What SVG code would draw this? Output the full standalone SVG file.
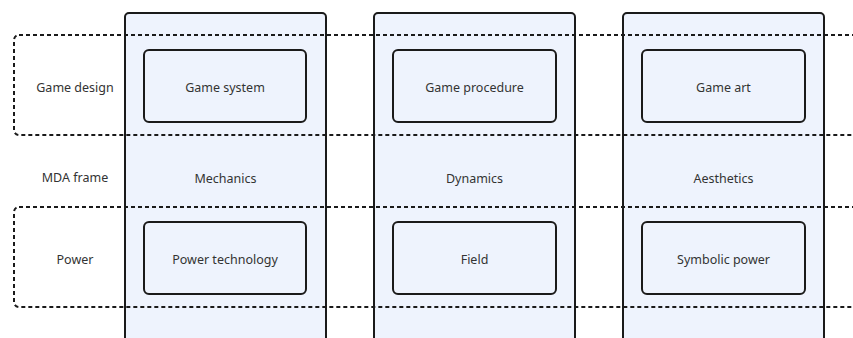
<svg xmlns="http://www.w3.org/2000/svg" width="853" height="338" viewBox="0 0 853 338">
  <style>
    .col { fill: #eef3fd; stroke: #1a1a1a; stroke-width: 2; }
    .box { fill: #eef3fd; stroke: #1a1a1a; stroke-width: 2; }
    .band { fill: none; stroke: #1a1a1a; stroke-width: 2; stroke-dasharray: 4 3; }
    text { font-family: "Noto Sans", "Open Sans", sans-serif; font-size: 12.5px; fill: #333333; text-anchor: middle; dominant-baseline: central; }
  </style>
  <rect width="853" height="338" fill="#ffffff"/>

  <!-- columns of the MDA frame -->
  <g id="col-mechanics">
    <rect class="col" x="125" y="13" width="201" height="340" rx="4"/>
    <text x="225.5" y="178">Mechanics</text>
  </g>
  <g id="col-dynamics">
    <rect class="col" x="374" y="13" width="201" height="340" rx="4"/>
    <text x="474.5" y="178">Dynamics</text>
  </g>
  <g id="col-aesthetics">
    <rect class="col" x="623" y="13" width="201" height="340" rx="4"/>
    <text x="723.5" y="178">Aesthetics</text>
  </g>

  <!-- dashed row bands -->
  <g id="row-game-design">
    <rect class="band" x="14" y="35" width="860" height="100" rx="5"/>
    <text x="75" y="87.5">Game design</text>
  </g>
  <g id="row-mda">
    <text x="75" y="177.5">MDA frame</text>
  </g>
  <g id="row-power">
    <rect class="band" x="14" y="207" width="860" height="100" rx="5"/>
    <text x="75" y="259">Power</text>
  </g>

  <!-- cells -->
  <g id="game-system">
    <rect class="box" x="144" y="50" width="162" height="72" rx="5"/>
    <text x="225" y="87">Game system</text>
  </g>
  <g id="game-procedure">
    <rect class="box" x="393" y="50" width="163" height="72" rx="5"/>
    <text x="474.5" y="87">Game procedure</text>
  </g>
  <g id="game-art">
    <rect class="box" x="642" y="50" width="163" height="72" rx="5"/>
    <text x="723.5" y="87">Game art</text>
  </g>
  <g id="power-technology">
    <rect class="box" x="144" y="222" width="162" height="72" rx="5"/>
    <text x="225" y="259">Power technology</text>
  </g>
  <g id="field">
    <rect class="box" x="393" y="222" width="163" height="72" rx="5"/>
    <text x="474.5" y="259">Field</text>
  </g>
  <g id="symbolic-power">
    <rect class="box" x="642" y="222" width="163" height="72" rx="5"/>
    <text x="723.5" y="259">Symbolic power</text>
  </g>

  <g id="connectors"></g>
</svg>
